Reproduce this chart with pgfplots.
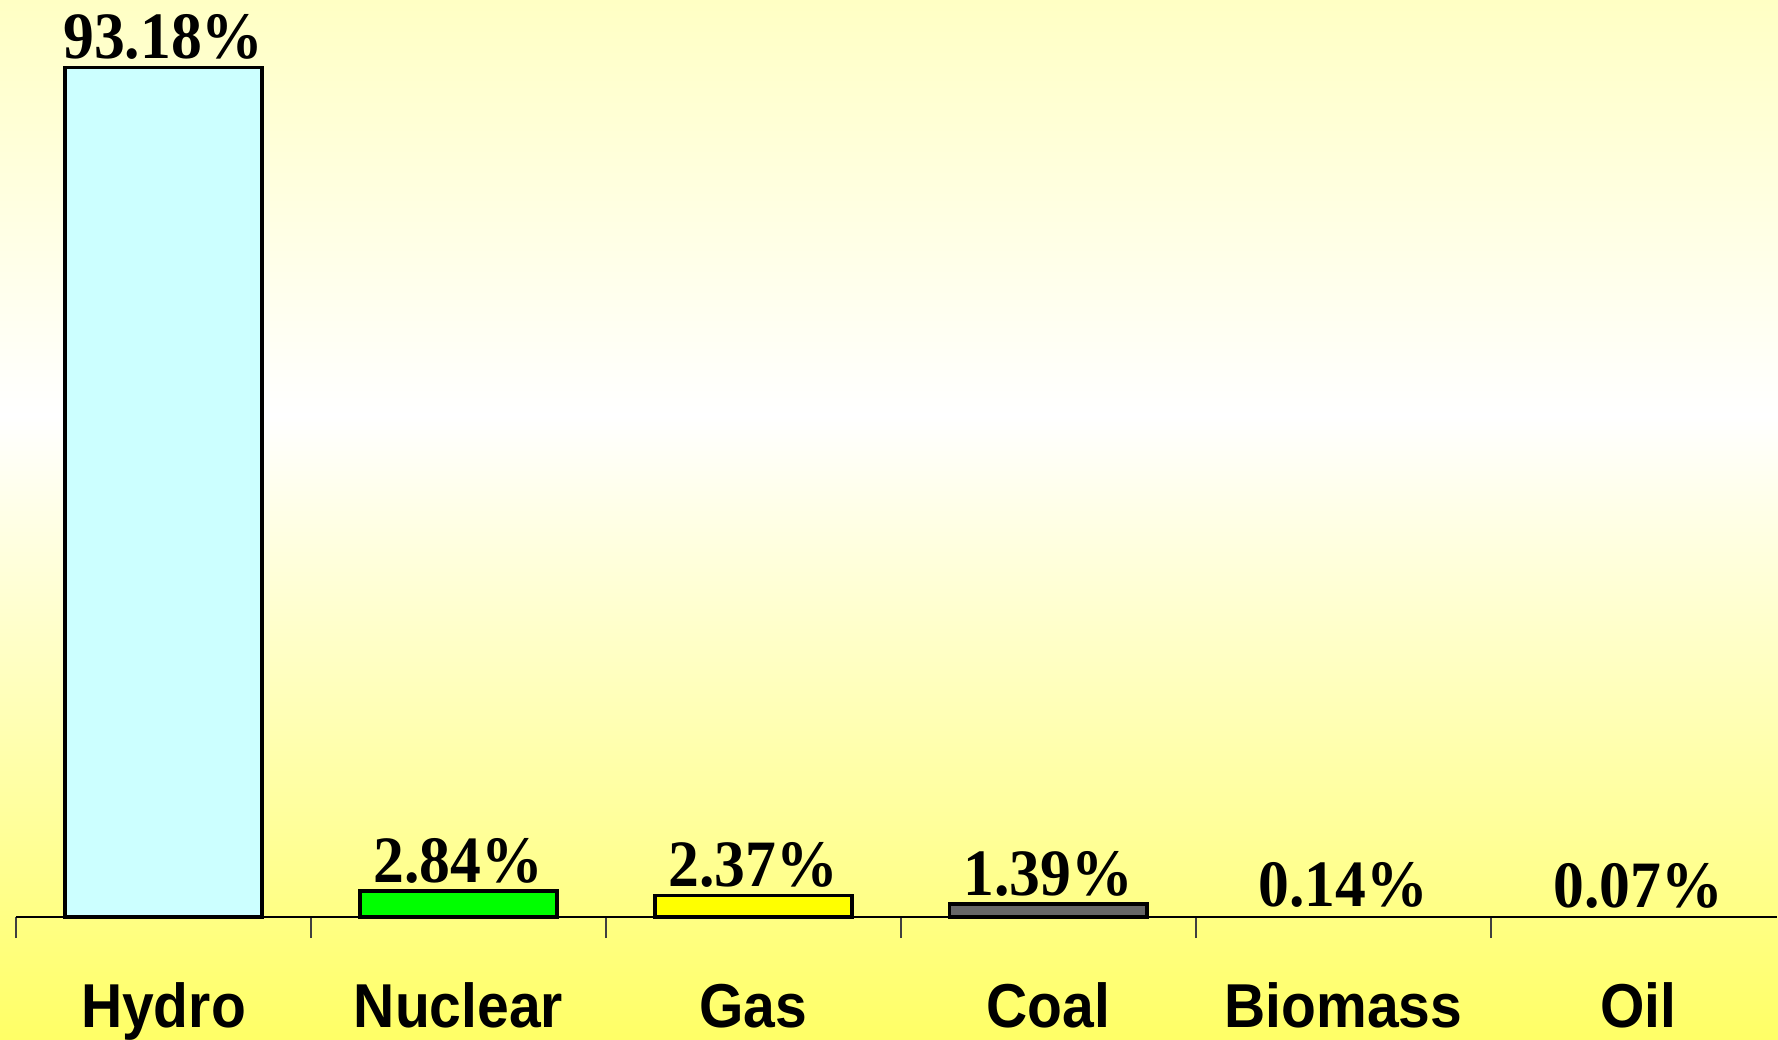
\documentclass[border=0pt]{standalone}
\usepackage{pgfplots}
\pgfplotsset{compat=1.18}
\usepackage{fontspec}
\setmainfont{Liberation Serif}
\newfontfamily\catfont{Liberation Sans}
\newfontfamily\valfont{Liberation Serif}

\definecolor{ytop}{HTML}{FFFFC4}
\definecolor{ymid}{HTML}{FFFFA8}
\definecolor{ybot}{HTML}{FFFF66}
\definecolor{hydro}{HTML}{CCFFFF}
\definecolor{nuclear}{HTML}{00FF00}
\definecolor{gas}{HTML}{FFFF00}
\definecolor{coal}{HTML}{666666}
\pgfdeclareverticalshading{bgshade}{100bp}{color(0bp)=(ybot); color(25bp)=(ybot); color(38bp)=(ymid); color(55bp)=(white); color(75bp)=(ytop); color(100bp)=(ytop)}

\begin{document}
\begin{tikzpicture}
\useasboundingbox (0pt,0pt) rectangle (711.2pt,415.6pt);
\shade[shading=bgshade] (0pt,0pt) rectangle (711.2pt,415.6pt);
\begin{axis}[
  at={(6.4pt,48.8pt)}, anchor=south west, scale only axis,
  width=704.4pt, height=366.8pt,
  xmin=-0.5, xmax=5.47, ymin=0, ymax=100.58,
  axis x line*=bottom, axis y line=none,
  axis line style={black, line width=0.6pt},
  xtick={0,1,2,3,4,5},
  xticklabels={Hydro,Nuclear,Gas,Coal,Biomass,Oil},
  major tick length=0pt,
  minor xtick={-0.5,0.5,1.5,2.5,3.5,4.5},
  minor tick length=8.4pt, tick align=outside,
  tick style={black!75, line width=0.5pt},
  xticklabel style={font=\catfont\bfseries\fontsize{24.8pt}{26pt}\selectfont, anchor=base, yshift=-44pt, xscale=0.92},
  clip=false,
  nodes near coords={\pgfmathprintnumber[assume math mode=true,fixed,fixed zerofill,precision=2]{\pgfplotspointmeta}\%},
  every node near coord/.style={font=\valfont\bfseries\fontsize{26.5pt}{28pt}\selectfont, anchor=base, yshift=3.6pt, xscale=0.93, text=black},
  every axis plot/.append style={ybar, bar width=0.67, line width=1.5pt, draw=black},
]
\addplot[fill=hydro] coordinates {(0,93.18)};
\addplot[fill=nuclear] coordinates {(1,2.84)};
\addplot[fill=gas] coordinates {(2,2.37)};
\addplot[fill=coal] coordinates {(3,1.39)};
\addplot[fill=none, draw=none] coordinates {(4,0.14)};
\addplot[fill=none, draw=none] coordinates {(5,0.07)};
\end{axis}
\end{tikzpicture}
\end{document}
